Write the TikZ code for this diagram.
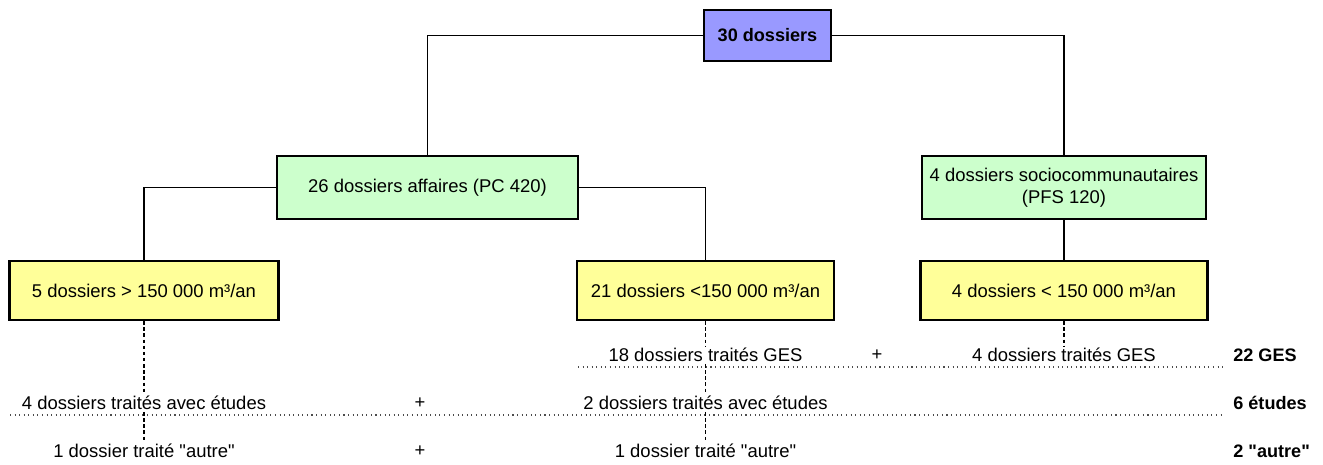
\documentclass[tikz,border=0pt]{standalone}
\usepackage{fontspec}
\setmainfont{Liberation Sans}
\usetikzlibrary{positioning}

\definecolor{topblue}{RGB}{153,153,255}
\definecolor{boxgreen}{RGB}{204,255,204}
\definecolor{boxyellow}{RGB}{255,255,153}

\begin{document}
\begin{tikzpicture}[x=0.02cm, y=-0.02cm, every node/.style={font=\fontsize{10.5pt}{12.5pt}\selectfont}]

% Define styles
\tikzstyle{total} = [rectangle, fill=topblue, draw=black, line width=1.2pt, font=\fontsize{10.3pt}{12.5pt}\selectfont\bfseries]
\tikzstyle{family} = [rectangle, fill=boxgreen, draw=black, line width=1.2pt, align=center, minimum height=1.26cm]
\tikzstyle{volume} = [rectangle, fill=boxyellow, draw=black, line width=1.2pt, minimum height=1.18cm]
\tikzstyle{result} = [inner sep=1pt]
\tikzstyle{sum} = [inner sep=0pt, anchor=west, font=\fontsize{10.3pt}{12.5pt}\selectfont\bfseries]
\tikzstyle{link} = [line width=0.6pt]
\tikzstyle{branch} = [line width=0.6pt, dash pattern=on 2pt off 1.5pt]
\tikzstyle{rule} = [line width=0.6pt, dotted, black!70]

\useasboundingbox (0,0) rectangle (1323,464);

% Nodes
\node[total, minimum width=2.54cm, minimum height=1.02cm] (all) at (767.5,35.5) {30 dossiers};

\node[family, minimum width=6.02cm] (affaires) at (427.5,187.5) {26 dossiers affaires (PC 420)};
\node[family, minimum width=5.68cm] (socio) at (1064,187.5) {4 dossiers sociocommunautaires\\(PFS 120)};

\node[volume, minimum width=5.38cm] (big) at (144,290.5) {5 dossiers > 150 000 m³/an};
\node[volume, minimum width=5.14cm] (small) at (705.5,290.5) {21 dossiers <150 000 m³/an};
\node[volume, minimum width=5.74cm] (socsmall) at (1064,290.5) {4 dossiers < 150 000 m³/an};

\draw[link] (all.west) -| (affaires.north);
\draw[link] (all.east) -| (socio.north);
\draw[link] (affaires.west) -| (big.north);
\draw[link] (affaires.east) -| (small.north);
\draw[link] (socio.south) -- (socsmall.north);

% Results
\node[result] (gesA) at (705.5,355) {18 dossiers traités GES};
\node[result] (plusA) at (877,355) {+};
\node[result] (gesB) at (1064,355) {4 dossiers traités GES};
\node[sum] (gesT) at (1233,355) {22 GES};

\node[result] (etuA) at (144,403) {4 dossiers traités avec études};
\node[result] (plusB) at (420,403) {+};
\node[result] (etuB) at (705.5,403) {2 dossiers traités avec études};
\node[sum] (etuT) at (1233,403) {6 études};

\node[result] (autA) at (144,451) {1 dossier traité \textquotedbl autre\textquotedbl};
\node[result] (plusC) at (420,451) {+};
\node[result] (autB) at (705.5,451) {1 dossier traité \textquotedbl autre\textquotedbl};
\node[sum] (autT) at (1233,451) {2 \textquotedbl autre\textquotedbl};

\coordinate (gesL) at (578,367);
\coordinate (gesR) at (1225,367);
\coordinate (etuL) at (10,415);
\coordinate (etuR) at (1225,415);

\draw[rule] (gesL) -- (gesR);
\draw[rule] (etuL) -- (etuR);

\draw[branch] (big.south) -- (etuA.north);
\draw[branch] (etuA.south) -- (autA.north);
\draw[branch] (small.south) -- (gesA.north);
\draw[branch] (gesA.south) -- (etuB.north);
\draw[branch] (etuB.south) -- (autB.north);
\draw[branch] (socsmall.south) -- (gesB.north);

\end{tikzpicture}
\end{document}
